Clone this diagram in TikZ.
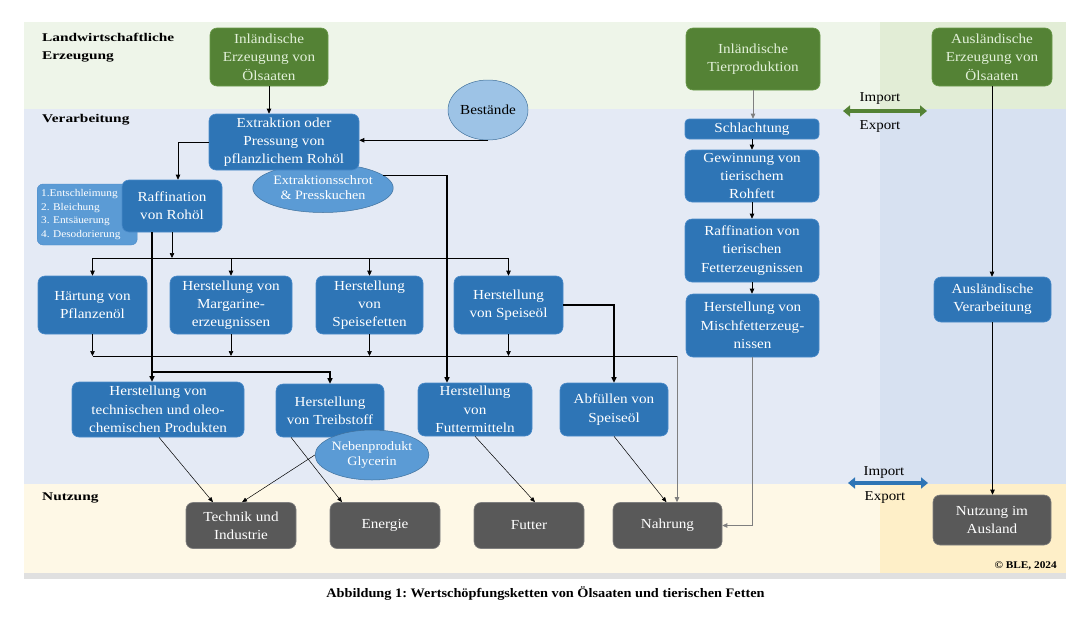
\documentclass[tikz,border=0pt]{standalone}
\usepackage{fontspec}
\setmainfont{Liberation Serif}
\newfontfamily\boxfont{Liberation Serif}[FakeStretch=1.1]
\newfontfamily\labfont{Liberation Serif}[FakeStretch=1.3]
\usetikzlibrary{arrows.meta,shapes.geometric}
\frenchspacing
\definecolor{cTopL}{HTML}{EEF5E9}
\definecolor{cTopR}{HTML}{E2EDD6}
\definecolor{cMidL}{HTML}{E4EAF5}
\definecolor{cMidR}{HTML}{D7E1F1}
\definecolor{cBotL}{HTML}{FEF8E6}
\definecolor{cBotR}{HTML}{FEEFC8}
\definecolor{cStrip}{HTML}{E0E0E0}
\definecolor{cBlue}{HTML}{2E75B6}
\definecolor{cBlueEdge}{HTML}{4A8AC9}
\definecolor{cGreen}{HTML}{548235}
\definecolor{cGreenEdge}{HTML}{6A9A4A}
\definecolor{cGreenText}{HTML}{E2F0D9}
\definecolor{cGray}{HTML}{595959}
\definecolor{cGrayEdge}{HTML}{7F7F7F}
\definecolor{cEll}{HTML}{5B9BD5}
\definecolor{cEllEdge}{HTML}{41719C}
\definecolor{cBest}{HTML}{9DC3E6}
\definecolor{cLine}{HTML}{7F7F7F}
\begin{document}
\begin{tikzpicture}[x=1pt,y=-1pt,
  box/.style={rounded corners=7pt, inner sep=0pt, align=center, text=white,
    font=\boxfont\fontsize{13.8}{18.3}\selectfont, line width=0.6pt},
  bluebox/.style={box, fill=cBlue, draw=cBlueEdge},
  greenbox/.style={box, fill=cGreen, draw=cGreenEdge, text=cGreenText},
  graybox/.style={box, fill=cGray, draw=cGrayEdge},
  listbox/.style={rounded corners=6pt, fill=cEll, draw=cBlueEdge, text=white, align=left,
    inner xsep=4pt, inner ysep=0pt, font=\boxfont\fontsize{10.3}{13.9}\selectfont},
  ell/.style={ellipse, fill=cEll, draw=cEllEdge, line width=0.5pt, text=white, inner sep=0pt,
    align=center, font=\boxfont\fontsize{12.8}{15.2}\selectfont},
  bestell/.style={ellipse, fill=cBest, draw=cEllEdge, line width=0.5pt, text=black, inner sep=0pt,
    font=\boxfont\fontsize{13.8}{16}\selectfont},
  lab/.style={anchor=north west, inner sep=0pt, align=left,
    font=\labfont\bfseries\fontsize{11.8}{17.7}\selectfont},
  iotext/.style={inner sep=0pt, font=\boxfont\fontsize{13.6}{15}\selectfont},
  line/.style={line width=0.7pt},
  arr/.style={-{Triangle[length=5pt,width=4.5pt]}, line width=0.7pt},
  arrgray/.style={arr, draw=cLine},
  arrthick/.style={-{Triangle[length=5.5pt,width=5pt]}, line width=1.3pt},
  arrthin/.style={-{Triangle[length=5pt,width=4pt]}, line width=0.5pt},
  bigarr/.style={line width=4pt, {Triangle[length=7pt,width=11pt]}-{Triangle[length=7pt,width=11pt]}}
]
\useasboundingbox (0,0) rectangle (1091,621);
% backgrounds
\fill[cTopL] (24,22) rectangle (880,109);
\fill[cTopR] (880,22) rectangle (1066,109);
\fill[cMidL] (24,109) rectangle (880,484);
\fill[cMidR] (880,109) rectangle (1066,484);
\fill[cBotL] (24,484) rectangle (880,573);
\fill[cBotR] (880,484) rectangle (1066,573);
\fill[cStrip] (24,573) rectangle (1066,579);

% band labels
\node[lab] (lLand) at (42,33) {Landwirtschaftliche\\Erzeugung};
\node[lab] (lVer) at (42,114) {Verarbeitung};
\node[lab] (lNutz) at (42,493) {Nutzung};

% top row
\node[greenbox, minimum width=118pt, minimum height=58pt] (inlOel) at (269,57) {Inländische\\Erzeugung von\\Ölsaaten};
\node[greenbox, minimum width=134pt, minimum height=62pt] (tier) at (753,59) {Inländische\\Tierproduktion};
\node[greenbox, minimum width=120pt, minimum height=58pt] (auslOel) at (992,57) {Ausländische\\Erzeugung von\\Ölsaaten};

% Verarbeitung
\node[bestell, minimum width=80pt, minimum height=60pt] (best) at (488,110) {Bestände};
\node[ell, minimum width=136pt, minimum height=49pt] (schrot) at (323,188) {Extraktionsschrot\\\& Presskuchen};
\node[bluebox, minimum width=150pt, minimum height=56pt] (extr) at (284,142) {Extraktion oder\\Pressung von\\pflanzlichem Rohöl};
\node[listbox, anchor=west, text width=92pt, minimum height=61pt] (list) at (37,214.5) {1.Entschleimung\\2. Bleichung\\3. Entsäuerung\\4. Desodorierung};
\node[bluebox, minimum width=100pt, minimum height=52pt] (raff) at (172,206) {Raffination\\von Rohöl};

\node[bluebox, minimum width=109pt, minimum height=58pt] (haert) at (92.5,305) {Härtung von\\Pflanzenöl};
\node[bluebox, minimum width=122pt, minimum height=58pt] (marg) at (231,305) {Herstellung von\\Margarine-\\erzeugnissen};
\node[bluebox, minimum width=107pt, minimum height=58pt] (spfett) at (369.5,305) {Herstellung\\von\\Speisefetten};
\node[bluebox, minimum width=109pt, minimum height=58pt] (spoel) at (508.5,305) {Herstellung\\von Speiseöl};

\node[bluebox, minimum width=172pt, minimum height=55pt] (tech) at (158,409.5) {Herstellung von\\technischen und oleo-\\chemischen Produkten};
\node[bluebox, minimum width=108pt, minimum height=53pt] (treib) at (330,410.5) {Herstellung\\von Treibstoff};
\node[ell, minimum width=110pt, minimum height=50pt] (glyc) at (372,455) {Nebenprodukt\\Glycerin};
\node[bluebox, minimum width=114pt, minimum height=53pt] (futtm) at (475,409.5) {Herstellung\\von\\Futtermitteln};
\node[bluebox, minimum width=108pt, minimum height=53pt] (abf) at (614,409.5) {Abfüllen von\\Speiseöl};

\node[bluebox, rounded corners=4pt, minimum width=134pt, minimum height=20pt] (schl) at (752,129) {Schlachtung};
\node[bluebox, minimum width=134pt, minimum height=52pt] (gew) at (752,176) {Gewinnung von\\tierischem\\Rohfett};
\node[bluebox, minimum width=134pt, minimum height=63pt] (rafft) at (752,250.5) {Raffination von\\tierischen\\Fetterzeugnissen};
\node[bluebox, minimum width=133pt, minimum height=63pt] (misch) at (752.5,325.5) {Herstellung von\\Mischfetterzeug-\\nissen};

\node[bluebox, minimum width=117pt, minimum height=45pt] (auslV) at (992.5,299.5) {Ausländische\\Verarbeitung};

% Nutzung
\node[graybox, minimum width=110pt, minimum height=46pt] (techn) at (241,525.5) {Technik und\\Industrie};
\node[graybox, minimum width=110pt, minimum height=46pt] (energ) at (385,525.5) {Energie};
\node[graybox, minimum width=110pt, minimum height=46pt] (futter) at (529,525.5) {Futter};
\node[graybox, minimum width=109pt, minimum height=46pt] (nahr) at (667.5,525.5) {Nahrung};
\node[graybox, minimum width=118pt, minimum height=50pt] (nutzA) at (992,520) {Nutzung im\\Ausland};

% helper coordinates
\coordinate (b1) at (0,258);
\coordinate (b2) at (0,356);
\coordinate (b2R) at (677,356);
\coordinate (jt) at (0,372);

% connectors
\draw[arr] (inlOel.south) -- (inlOel.south |- extr.north);
\draw[arr] (best.south) -- (best.south -| extr.east);
\draw[arr] (extr.west) -| ([xshift=6pt]raff.north);
\draw[arrthick] (schrot.12) -| ([xshift=-28pt]futtm.north);
\draw[arr] (raff.south) -- (raff.south |- b1);
\draw[line] (haert.north |- b1) -- (spoel.north |- b1);
\foreach \n in {haert,marg,spfett,spoel}{
  \draw[arr] (\n.north |- b1) -- (\n.north);
  \draw[arr] (\n.south) -- (\n.south |- b2);
}
\draw[line] (haert.south |- b2) -- (b2R);
\draw[arrgray] (b2R) -- (b2R |- nahr.north);
\draw[arrthick] (spoel.east) -| (abf.north);
\draw[arrthick] ([xshift=-20pt]raff.south) -- ([xshift=-20pt]raff.south |- tech.north);
\draw[arrthick] ([xshift=-20pt]raff.south |- jt) -| (treib.north);

\draw[arrthin] ([xshift=1pt]tech.south) -- ([xshift=-28pt]techn.north);
\draw[arrthin] (glyc.west) -- ([xshift=1pt]techn.north);
\draw[arrthin] ([xshift=-39pt]treib.south) -- ([xshift=-43pt]energ.north);
\draw[arrthin] (futtm.south) -- ([xshift=6pt]futter.north);
\draw[arrthin] (abf.south) -- ([xshift=-1pt]nahr.north);

\draw[arrgray] (tier.south) -- (tier.south |- schl.north);
\draw[arr] (schl.south) -- (schl.south |- gew.north);
\draw[arr] (gew.south) -- (gew.south |- rafft.north);
\draw[arr] (rafft.south) -- (rafft.south |- misch.north);
\draw[arrgray] (misch.south) |- (nahr.east);

\draw[arr] (auslOel.south) -- (auslOel.south |- auslV.north);
\draw[arr] (auslV.south) -- (auslV.south |- nutzA.north);

% import / export
\coordinate (giL) at (843,111);
\coordinate (giR) at (927,111);
\draw[bigarr, draw=cGreen, fill=cGreen] (giL) -- (giR);
\node[iotext] (gImp) at (880,98) {Import};
\node[iotext] (gExp) at (880,126) {Export};
\coordinate (biL) at (848,483);
\coordinate (biR) at (928,483);
\draw[bigarr, draw=cBlue, fill=cBlue] (biL) -- (biR);
\node[iotext] (bImp) at (884,472) {Import};
\node[iotext] (bExp) at (885,497) {Export};

% copyright and caption
\node[anchor=east, inner sep=0pt, font=\boxfont\bfseries\fontsize{10.3}{12}\selectfont] (copy) at (1057,566) {© BLE, 2024};
\node[inner sep=0pt, font=\boxfont\bfseries\fontsize{13}{15}\selectfont] (cap) at (545.5,593.5) {Abbildung 1: Wertschöpfungsketten von Ölsaaten und tierischen Fetten};
\end{tikzpicture}
\end{document}
